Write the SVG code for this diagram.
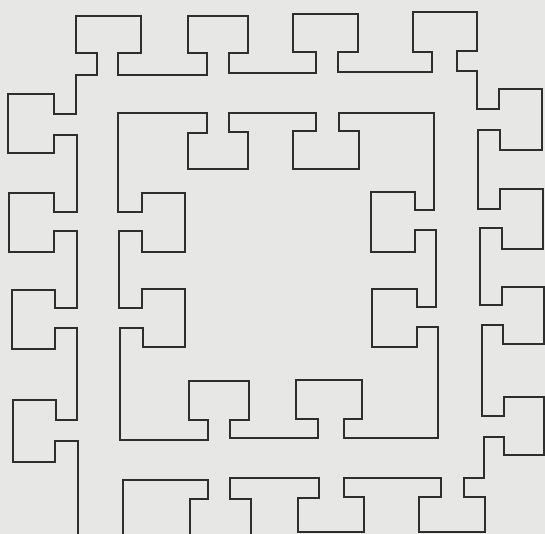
<svg xmlns="http://www.w3.org/2000/svg" width="545" height="534" viewBox="0 0 545 534">
<style>
.curve{fill:none;stroke:#2e2e2e;stroke-width:2;stroke-linejoin:miter;stroke-linecap:square}
</style>
<rect x="0" y="0" width="545" height="534" fill="#e7e7e5"/>
<g id="outer-boundary">
<path class="curve" d="M78,536 V441 H55 V462 H13 V400 H56 V420 H77 V328 H55 V349 H12 V290 H55 V308 H77 V231 H54 V252 H9 V193 H54 V212 H77 V135 H54 V153 H8 V94 H54 V114 H76 V75 H97 V53 H76 V16 H141 V53 H118 V75 H207 V53 H188 V16 H248 V53 H229 V73 H316 V52 H293 V14 H358 V52 H338 V72 H432 V52 H413 V12 H477 V51 H457 V71 H477 V109 H499 V89 H542 V150 H500 V130 H478 V209 H500 V189 H543 V249 H502 V228 H480 V305 H502 V287 H544 V344 H503 V325 H482 V416 H504 V397 H544 V455 H504 V437 H484 V478 H464 V497 H485 V532 H419 V497 H441 V478 H344 V497 H364 V532 H298 V498 H319 V478 H230 V499 H251 V537 H190 V499 H208 V480 H123 V537"/>
</g>
<g id="inner-boundary">
<path class="curve" d="M118,113 H207 V133 H188 V169 H248 V132 H229 V113 H316 V131 H293 V169 H359 V131 H339 V113 H434 V210 H415 V192 H371 V252 H415 V230 H436 V307 H417 V289 H372 V347 H417 V327 H438 V438 H344 V419 H362 V380 H296 V419 H318 V438 H230 V420 H249 V381 H189 V420 H208 V440 H120 V328 H143 V347 H185 V289 H142 V308 H119 V231 H142 V252 H185 V193 H142 V212 H118 Z"/>
</g>
</svg>
